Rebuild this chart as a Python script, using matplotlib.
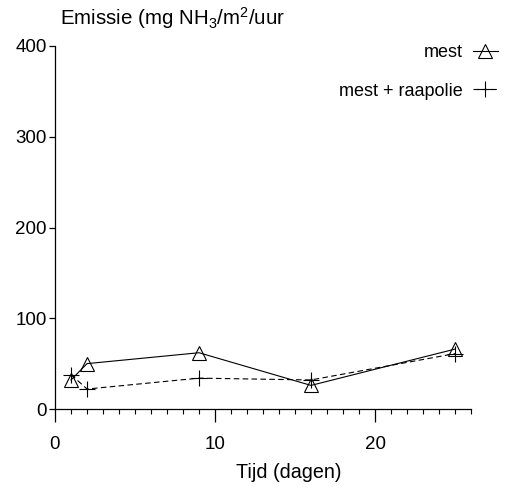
import numpy as np
import matplotlib
matplotlib.use("Agg")
import matplotlib.pyplot as plt

plt.rcParams['font.family'] = ['Liberation Sans', 'DejaVu Sans']
plt.rcParams['mathtext.default'] = 'regular'

# data
dagen = [1, 2, 9, 16, 25]
mest = [32, 50, 62, 26, 66]
mest_raapolie = [38, 22, 34, 32, 61]
y_ticks = [0, 100, 200, 300, 400]
x_ticks = [0, 10, 20]

fig = plt.figure(figsize=(5.06, 4.87), dpi=100)
ax = fig.add_axes([55/506, 1 - 409/487, 416/506, 363/487])

ax.plot(dagen, mest, color='black', lw=0.8, marker='^', ms=10,
        mfc='none', mec='black', mew=0.8, label='mest')
ax.plot(dagen, mest_raapolie, color='black', lw=0.8, ls=(0, (5, 3)),
        marker='+', ms=11, mew=0.8, label='mest + raapolie')

ax.set_xlim(0, 26)
ax.set_ylim(0, 400)
ax.set_xticks(x_ticks)
ax.set_xticks(np.arange(0, 27), minor=True)
ax.set_yticks(y_ticks)
for s in ['top', 'right']:
    ax.spines[s].set_visible(False)
for s in ['left', 'bottom']:
    ax.spines[s].set_linewidth(0.9)

ax.tick_params(axis='x', which='major', length=9, width=0.9, pad=10.5, labelsize=13.5)
ax.tick_params(axis='x', which='minor', length=3.5, width=0.8)
ax.tick_params(axis='y', which='major', length=4, width=0.9, pad=2, labelsize=13.5)

leg = ax.legend(loc='upper right', bbox_to_anchor=(498/506, 1 - 44/487),
                bbox_transform=fig.transFigure, frameon=False, markerfirst=False,
                fontsize=13, handlelength=1.4, handletextpad=0.55,
                labelspacing=1.2, borderpad=0, borderaxespad=0)

fig.text(60/506, 1 - 18/487, 'Emissie (mg NH$_3$/m$^2$/uur', fontsize=14.8,
         ha='left', va='center')
fig.text(289/506, 1 - 473/487, 'Tijd (dagen)', fontsize=14.2,
         ha='center', va='center')

fig.savefig('out.png', dpi=100)
